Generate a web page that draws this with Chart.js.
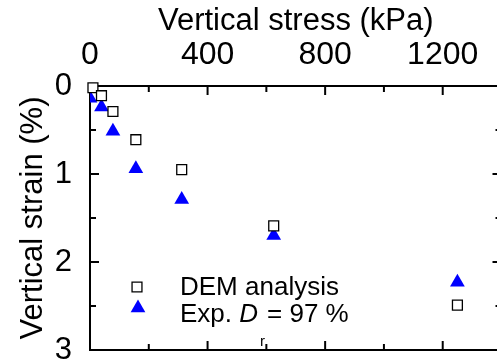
<!DOCTYPE html>
<html>
<head>
<meta charset="utf-8">
<script src="https://cdn.jsdelivr.net/npm/chart.js@4/dist/chart.umd.min.js"></script>
<style>
  html, body { margin: 0; padding: 0; overflow: hidden; background: #fff; }
  canvas { display: block; }
</style>
</head>
<body>
<canvas id="grafico" width="510" height="360"></canvas>
<script>
// --- datos ---
const tensionDem = [10, 39, 78, 156, 312, 625, 1250];
const deformDem = [0.02, 0.11, 0.29, 0.61, 0.95, 1.59, 2.49];
const tensionExp = [0, 39, 78, 156, 312, 625, 1250];
const deformExp = [0.14, 0.24, 0.515, 0.94, 1.29, 1.70, 2.23];

const ejeX = { min: 0, max: 1400, paso: 400, menor: 200 };
const ejeY = { min: 0, max: 3, paso: 1, menor: 0.5 };

const fuente = '"Liberation Sans", Arial, sans-serif';

function puntos(xs, ys) {
    return xs.map((v, i) => ({ x: v, y: ys[i] }));
}

function linea(ctx, x1, y1, x2, y2) {
    ctx.beginPath();
    ctx.moveTo(x1, y1);
    ctx.lineTo(x2, y2);
    ctx.stroke();
}

// --- marco con marcas hacia dentro ---
const marcoPlugin = {
    id: 'marco',
    beforeDatasetsDraw(chart) {
        const { ctx, chartArea: a, scales: { x, y } } = chart;
        ctx.save();
        ctx.strokeStyle = '#000';
        ctx.lineWidth = 2;
        ctx.strokeRect(a.left, a.top, a.right - a.left, a.bottom - a.top);
        for (let v = ejeX.min; v <= ejeX.max; v += ejeX.menor) {
            const px = x.getPixelForValue(v);
            const largo = v % ejeX.paso === 0 ? 9 : 6;
            linea(ctx, px, a.top, px, a.top + largo);
            linea(ctx, px, a.bottom, px, a.bottom - largo);
        }
        for (let v = ejeY.min; v <= ejeY.max + 1e-9; v += ejeY.menor) {
            const py = y.getPixelForValue(v);
            const largo = Math.abs(v % ejeY.paso) < 1e-9 ? 9 : 6;
            linea(ctx, a.left, py, a.left + largo, py);
            linea(ctx, a.right, py, a.right - largo, py);
        }
        ctx.restore();
    }
};

// --- leyenda dentro del gráfico (con subíndice) ---
const leyendaPlugin = {
    id: 'leyenda',
    afterDraw(chart) {
        const ctx = chart.ctx;
        const dem = chart.data.datasets[0];
        const exp = chart.data.datasets[1];
        ctx.save();
        ctx.fillStyle = dem.backgroundColor;
        ctx.strokeStyle = dem.borderColor;
        ctx.lineWidth = dem.borderWidth;
        Chart.helpers.drawPoint(ctx, { pointStyle: 'rect', radius: dem.pointRadius, rotation: 0, borderWidth: dem.borderWidth }, 137, 287);
        ctx.fillStyle = exp.backgroundColor;
        ctx.strokeStyle = exp.borderColor;
        ctx.lineWidth = 0;
        Chart.helpers.drawPoint(ctx, { pointStyle: 'triangle', radius: exp.pointRadius, rotation: 0, borderWidth: 0 }, 138, 308);

        ctx.fillStyle = '#000';
        ctx.textBaseline = 'alphabetic';
        ctx.textAlign = 'left';
        ctx.font = '26px ' + fuente;
        ctx.fillText('DEM analysis', 180, 295);

        let xt = 180;
        ctx.fillText('Exp. ', xt, 322);
        xt += ctx.measureText('Exp. ').width;
        ctx.font = 'italic 26px ' + fuente;
        ctx.fillText('D', xt, 322);
        xt += ctx.measureText('D').width;
        ctx.font = '15px ' + fuente;
        ctx.fillText('r', xt + 2, 346);
        xt += ctx.measureText('r').width + 4;
        ctx.font = '26px ' + fuente;
        ctx.fillText('= 97 %', xt, 322);
        ctx.restore();
    }
};

new Chart(document.getElementById('grafico'), {
    type: 'scatter',
    data: {
        datasets: [{
            label: 'DEM analysis',
            data: puntos(tensionDem, deformDem),
            pointStyle: 'rect',
            pointRadius: 7,
            backgroundColor: '#ffffff',
            borderColor: '#000000',
            borderWidth: 1.3,
            clip: false
        }, {
            label: 'Exp. Dr = 97 %',
            data: puntos(tensionExp, deformExp),
            pointStyle: 'triangle',
            pointRadius: 8.5,
            backgroundColor: '#0000ff',
            borderColor: '#0000ff',
            borderWidth: 0
        }]
    },
    options: {
        responsive: false,
        animation: false,
        layout: { padding: { left: 0, right: 8, top: 0, bottom: 10 } },
        plugins: {
            legend: { display: false },
            tooltip: { enabled: false }
        },
        scales: {
            x: {
                type: 'linear',
                position: 'top',
                min: ejeX.min,
                max: ejeX.max,
                grid: { display: false },
                border: { display: false },
                ticks: {
                    stepSize: ejeX.paso,
                    includeBounds: false,
                    autoSkip: false,
                    maxRotation: 0,
                    padding: 4,
                    color: '#000',
                    font: { family: fuente, size: 32 },
                    callback: v => String(v)
                },
                title: {
                    display: true,
                    text: 'Vertical stress (kPa)',
                    color: '#000',
                    font: { family: fuente, size: 31 },
                    padding: { top: 3, bottom: 0 }
                },
                afterFit: s => {
                    s.height = 86;
                    s.paddingLeft = 0;
                    s.paddingRight = 0;
                }
            },
            y: {
                type: 'linear',
                reverse: true,
                min: ejeY.min,
                max: ejeY.max,
                grid: { display: false },
                border: { display: false },
                ticks: {
                    stepSize: ejeY.paso,
                    autoSkip: false,
                    padding: 10,
                    color: '#000',
                    font: { family: fuente, size: 31 },
                    callback: v => String(v)
                },
                title: {
                    display: true,
                    text: 'Vertical strain (%)',
                    color: '#000',
                    font: { family: fuente, size: 31 },
                    padding: { top: 15, bottom: 0 }
                },
                afterFit: s => {
                    s.width = 90;
                    s.paddingTop = 0;
                    s.paddingBottom = 0;
                }
            }
        }
    },
    plugins: [marcoPlugin, leyendaPlugin]
});
</script>
</body>
</html>
